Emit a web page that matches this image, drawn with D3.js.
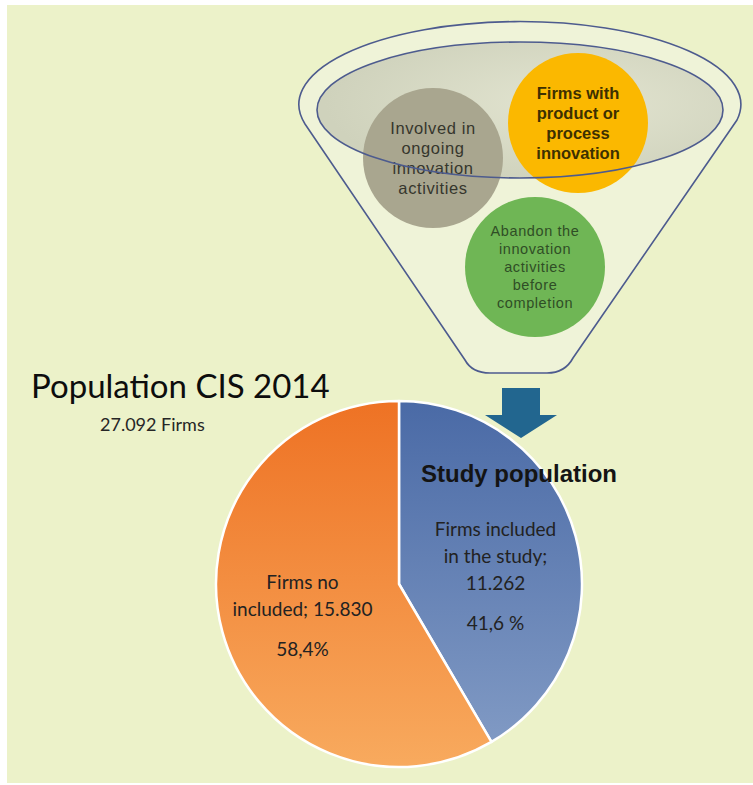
<!DOCTYPE html>
<html>
<head>
<meta charset="utf-8">
<script src="https://cdn.jsdelivr.net/npm/d3@7"></script>
<style>
  html, body { margin: 0; padding: 0; background: #ffffff; }
  svg { display: block; }
</style>
</head>
<body>
<svg id="chart" width="753" height="785"></svg>
<script>
// Population split of the CIS 2014 survey
const sliceNames = ["Firms included in the study", "Firms no included"];
const sliceValues = [11262, 15830];
const sliceLines = [["Firms included", "in the study;", "11.262"], ["Firms no", "included; 15.830"]];
const slicePercents = ["41,6 %", "58,4%"];
const sliceColors = [["#4a6aa6", "#849dc6"], ["#ee7224", "#f8aa5e"]];

// Groups poured into the funnel
const groupNames = ["Involved in ongoing innovation activities", "Firms with product or process innovation", "Abandon the innovation activities before completion"];
const groupLines = [
  ["Involved in", "ongoing", "innovation", "activities"],
  ["Firms with", "product or", "process", "innovation"],
  ["Abandon the", "innovation", "activities", "before", "completion"]
];
const groupColors = ["#a9a68f", "#fbb800", "#6fb655"];

const titleText = "Population CIS 2014";
const subtitleText = "27.092 Firms";
const studyText = "Study population";

const svg = d3.select("#chart");
const defs = svg.append("defs");

// page background
svg.append("rect").attr("x", 7).attr("y", 5).attr("width", 746).attr("height", 778).attr("fill", "#ecf2c9");

// ---------- funnel ----------
const funnel = svg.append("g");
const innerE = { cx: 520, cy: 110, rx: 203, ry: 68 };

const inGrad = defs.append("radialGradient").attr("id", "rimGrad")
  .attr("cx", "62%").attr("cy", "45%").attr("r", "60%");
inGrad.append("stop").attr("offset", "0%").attr("stop-color", "#e2e4d0");
inGrad.append("stop").attr("offset", "100%").attr("stop-color", "#cfd2bc");

// cone outline: upper rim arc, two sides and a rounded spout
const outlineD = "M305,124 A221,83 0 1,1 737,120 L573,358 Q565,373 547,373 L490,373 Q472,373 465,360 Z";
funnel.append("path").attr("d", outlineD).attr("fill", "#eff3d8");

funnel.append("ellipse")
  .attr("cx", innerE.cx).attr("cy", innerE.cy).attr("rx", innerE.rx).attr("ry", innerE.ry)
  .attr("fill", "url(#rimGrad)");

// group circles
const groupPos = [[433, 158], [578, 123], [535, 267]];
const groupText = [
  { size: 16.5, weight: 400, fill: "#36362d", step: 20, ls: 0.6 },
  { size: 16.5, weight: 700, fill: "#3d3000", step: 20, ls: 0 },
  { size: 14.5, weight: 400, fill: "#2f4e26", step: 18, ls: 0.6 }
];
const groups = funnel.selectAll("g.grp").data(groupNames).join("g").attr("class", "grp")
  .attr("transform", (d, i) => `translate(${groupPos[i][0]},${groupPos[i][1]})`);
groups.append("circle").attr("r", 70).attr("fill", (d, i) => groupColors[i]);
groups.each(function (d, i) {
  const t = groupText[i];
  const lines = groupLines[i];
  d3.select(this).selectAll("text").data(lines).join("text")
    .attr("x", 0)
    .attr("y", (l, k) => (k - (lines.length - 1) / 2) * t.step)
    .attr("text-anchor", "middle").attr("dominant-baseline", "central")
    .attr("font-family", "'Liberation Sans', Arial, sans-serif")
    .attr("font-size", t.size).attr("font-weight", t.weight)
    .attr("letter-spacing", t.ls)
    .attr("fill", t.fill)
    .text(l => l);
});

// funnel outlines on top
funnel.append("path").attr("d", outlineD).attr("fill", "none")
  .attr("stroke", "#4d5b8e").attr("stroke-width", 1.6);
funnel.append("ellipse")
  .attr("cx", innerE.cx).attr("cy", innerE.cy).attr("rx", innerE.rx).attr("ry", innerE.ry)
  .attr("fill", "none").attr("stroke", "#4d5b8e").attr("stroke-width", 1.6);

// ---------- pie ----------
const cx = 399, cy = 584, radius = 183;
const pie = d3.pie().sort(null).value(d => d);
const arcs = pie(sliceValues);
const arc = d3.arc().innerRadius(0).outerRadius(radius);
const labelArc = d3.arc().innerRadius(100).outerRadius(100);

// vertical shading, in the pie group's own coordinates
sliceColors.forEach((c, i) => {
  const g = defs.append("linearGradient").attr("id", "slice" + i)
    .attr("gradientUnits", "userSpaceOnUse")
    .attr("x1", 0).attr("y1", -radius).attr("x2", 0).attr("y2", radius);
  g.append("stop").attr("offset", "0%").attr("stop-color", c[0]);
  g.append("stop").attr("offset", "100%").attr("stop-color", c[1]);
});

const pieG = svg.append("g").attr("transform", `translate(${cx},${cy})`);
pieG.selectAll("path").data(arcs).join("path")
  .attr("d", arc)
  .attr("fill", (d, i) => `url(#slice${i})`)
  .attr("stroke", "#ffffff").attr("stroke-width", 2.5).attr("stroke-linejoin", "round");

// arrow from funnel to the study slice
const arrow = d3.path();
arrow.moveTo(502, 388); arrow.lineTo(540, 388); arrow.lineTo(540, 415);
arrow.lineTo(557, 415); arrow.lineTo(521, 438); arrow.lineTo(485, 415);
arrow.lineTo(502, 415); arrow.closePath();
svg.append("path").attr("d", arrow.toString()).attr("fill", "#22668f");

// slice labels
const labelFont = "Lato, 'Open Sans', sans-serif";
pieG.selectAll("g.lbl").data(arcs).join("g").attr("class", "lbl")
  .each(function (d, i) {
    const [x, y] = labelArc.centroid(d);
    const g = d3.select(this);
    const lines = sliceLines[i];
    lines.forEach((l, k) => {
      g.append("text").attr("x", x).attr("y", y - 29 + k * 27)
        .attr("text-anchor", "middle").attr("dominant-baseline", "central")
        .attr("font-family", labelFont).attr("font-size", 19).attr("fill", "#222222")
        .text(l);
    });
    g.append("text").attr("x", x).attr("y", y - 29 + (lines.length - 1) * 27 + 40)
      .attr("text-anchor", "middle").attr("dominant-baseline", "central")
      .attr("font-family", labelFont).attr("font-size", 19).attr("fill", "#222222")
      .text(slicePercents[i]);
  });

// titles
svg.append("text").attr("x", 31).attr("y", 398)
  .attr("font-family", labelFont).attr("font-size", 33).attr("fill", "#0d0d0d")
  .text(titleText);
svg.append("text").attr("x", 100).attr("y", 431)
  .attr("font-family", labelFont).attr("font-size", 18).attr("fill", "#262626")
  .text(subtitleText);
svg.append("text").attr("x", 421).attr("y", 482)
  .attr("font-family", "'Liberation Sans', Arial, sans-serif").attr("font-weight", 700)
  .attr("font-size", 24).attr("fill", "#141414")
  .text(studyText);
</script>
</body>
</html>
